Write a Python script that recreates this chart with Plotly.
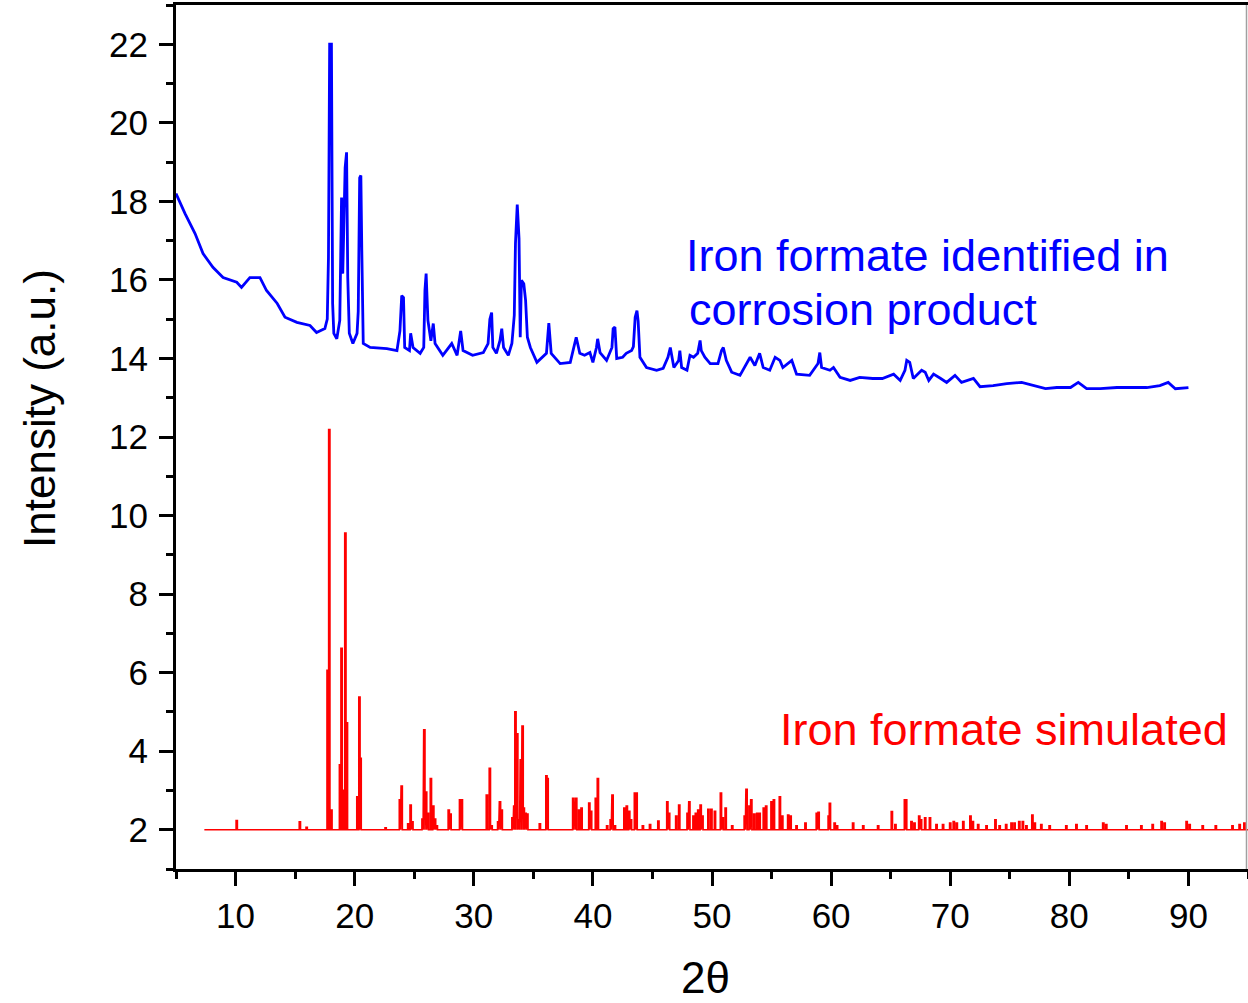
import plotly.graph_objects as go

# ---- data ----
blue_x = [5.0, 5.76, 6.6, 7.27, 8.1, 8.95, 10.1, 10.5, 11.2, 12.05, 12.6, 13.5, 14.15, 15.15, 16.25, 16.8,
          17.5, 17.7, 17.8, 17.9, 18.05, 18.15, 18.25, 18.5, 18.75, 18.9, 19.0, 19.2, 19.32, 19.42, 19.55,
          19.85, 20.2, 20.3, 20.42, 20.52, 20.6, 20.72, 21.3, 22.7, 23.55, 23.8, 23.95, 24.1, 24.2, 24.6,
          24.7, 24.9, 25.5, 25.8, 25.9, 26.0, 26.15, 26.4, 26.6, 26.75, 27.4, 28.15, 28.6, 28.9, 29.1,
          29.9, 30.8, 31.2, 31.35, 31.5, 31.6, 31.9, 32.2, 32.35, 32.5, 32.9, 33.2, 33.4, 33.5, 33.65,
          33.8, 33.9, 34.0, 34.2, 34.35, 34.5, 34.75, 35.3, 36.1, 36.2, 36.3, 36.5, 37.25, 38.1, 38.5,
          38.6, 38.9, 39.3, 39.75, 40.0, 40.3, 40.4, 40.6, 41.15, 41.6, 41.7, 41.85, 42.0, 42.5, 42.8,
          43.25, 43.4, 43.55, 43.7, 43.8, 43.95, 44.5, 45.35, 45.9, 46.3, 46.5, 46.8, 47.2, 47.3, 47.45,
          47.9, 48.15, 48.45, 48.8, 49.0, 49.1, 49.4, 49.85, 50.5, 50.8, 50.95, 51.2, 51.65, 52.35, 52.9,
          53.2, 53.6, 54.0, 54.3, 54.85, 55.3, 55.7, 55.95, 56.7, 57.1, 58.2, 58.9, 59.05, 59.2, 59.9,
          60.2, 60.75, 61.6, 62.4, 63.5, 64.3, 65.25, 65.8, 66.2, 66.35, 66.6, 66.9, 67.6, 67.9, 68.2,
          68.6, 69.2, 69.7, 70.4, 70.95, 71.95, 72.5, 73.6, 74.75, 76.0, 76.95, 78.0, 78.95, 80.1, 80.75,
          81.45, 82.6, 84.0, 85.1, 86.5, 87.6, 88.3, 88.9, 90.0]
blue_y = [18.2, 17.69, 17.18, 16.67, 16.32, 16.06, 15.94, 15.81, 16.06, 16.06, 15.73, 15.4, 15.05, 14.92,
          14.84, 14.66, 14.76, 15.0, 16.57, 22.0, 22.0, 15.4, 14.64, 14.5, 14.97, 18.1, 16.16, 18.86, 19.25,
          16.06, 14.64, 14.38, 14.64, 15.2, 18.6, 18.66, 16.75, 14.38, 14.28, 14.25, 14.2, 14.7, 15.6, 15.55,
          14.28, 14.2, 14.64, 14.28, 14.13, 14.28, 15.73, 16.16, 14.97, 14.45, 14.89, 14.38, 14.08, 14.38,
          14.08, 14.7, 14.2, 14.08, 14.15, 14.38, 15.0, 15.17, 14.28, 14.13, 14.46, 14.76, 14.28, 14.08,
          14.38, 15.1, 16.93, 17.92, 17.05, 14.54, 15.99, 15.9, 15.48, 14.54, 14.28, 13.9, 14.13, 14.46,
          14.9, 14.13, 13.87, 13.9, 14.46, 14.54, 14.13, 14.08, 14.15, 13.9, 14.28, 14.5, 14.15, 13.95,
          14.28, 14.76, 14.8, 14.0, 14.03, 14.13, 14.2, 14.3, 15.05, 15.22, 14.95, 14.03, 13.77, 13.7,
          13.75, 14.03, 14.28, 13.77, 13.95, 14.2, 13.77, 13.7, 14.08, 14.03, 14.13, 14.46, 14.2, 14.03,
          13.87, 13.87, 14.2, 14.28, 13.95, 13.65, 13.57, 13.87, 14.03, 13.82, 14.13, 13.77, 13.7, 14.03,
          13.95, 13.77, 13.95, 13.6, 13.57, 13.87, 14.15, 13.77, 13.7, 13.77, 13.52, 13.44, 13.52, 13.49,
          13.49, 13.6, 13.44, 13.7, 13.95, 13.9, 13.49, 13.7, 13.65, 13.44, 13.6, 13.49, 13.39, 13.57,
          13.39, 13.49, 13.28, 13.31, 13.36, 13.39, 13.31, 13.23, 13.26, 13.26, 13.39, 13.23, 13.23, 13.26,
          13.26, 13.26, 13.31, 13.39, 13.23, 13.26]

red_start = 7.38
red_end = 95.0
red_base = 2.0
red_pos = [10.1, 15.4, 15.97, 17.73, 17.87, 18.05, 18.77, 18.9, 19.05, 19.22, 19.35, 20.23, 20.4, 20.5,
           22.6, 23.8, 23.95, 24.5, 24.7, 24.85, 25.7, 25.85, 26.0, 26.15, 26.4, 26.6, 26.75, 26.9, 27.9,
           28.05, 28.85, 29.0, 31.1, 31.35, 31.5, 32.05, 32.2, 32.35, 33.25, 33.4, 33.5, 33.65, 33.8,
           33.95, 34.1, 34.2, 34.35, 34.5, 35.55, 36.1, 36.2, 38.35, 38.5, 38.6, 38.85, 39.05, 39.7, 39.85,
           40.25, 40.42, 41.2, 41.5, 41.65, 41.85, 42.65, 42.85, 43.05, 43.2, 43.53, 43.67, 44.2, 44.8,
           45.5, 46.25, 46.4, 47.0, 47.25, 47.95, 48.1, 48.45, 48.65, 48.85, 49.05, 49.2, 49.7, 49.95,
           50.25, 50.75, 50.9, 51.15, 51.7, 52.75, 52.9, 53.15, 53.3, 53.55, 53.8, 54.0, 54.35, 54.55,
           55.0, 55.2, 55.7, 55.9, 56.4, 56.6, 57.1, 57.85, 58.8, 58.95, 59.8, 59.9, 60.3, 60.5, 61.85,
           62.7, 63.95, 65.1, 65.4, 66.2, 66.3, 66.75, 67.0, 67.4, 67.55, 67.9, 68.3, 68.85, 69.4, 70.0,
           70.3, 70.55, 71.1, 71.7, 71.9, 72.35, 73.05, 73.8, 74.15, 74.7, 75.15, 75.4, 75.8, 76.1, 76.4,
           76.9, 77.1, 77.65, 78.35, 79.75, 80.6, 81.45, 82.85, 83.1, 84.8, 86.05, 87.0, 87.75, 88.0,
           89.85, 90.1, 91.2, 92.3, 93.7, 94.3, 94.7]
red_h = [2.23, 2.2, 2.06, 6.06, 12.19, 2.5, 3.65, 6.62, 3.0, 9.55, 4.72, 2.84, 5.38, 3.82,
         2.05, 2.76, 3.11, 2.15, 2.63, 2.2, 2.27, 4.54, 2.96, 2.42, 3.3, 2.6, 2.27, 2.1, 2.5,
         2.4, 2.76, 2.76, 2.88, 3.56, 2.1, 2.2, 2.71, 2.5, 2.3, 2.6, 5.0, 4.44, 2.25,
         3.78, 4.64, 2.55, 2.42, 2.4, 2.15, 3.37, 3.3, 2.8, 2.7, 2.8, 2.5, 2.55, 2.68, 2.47,
         2.8, 3.3, 2.1, 2.25, 2.88, 2.1, 2.55, 2.6, 2.47, 2.25, 2.93, 2.93, 2.1, 2.13,
         2.22, 2.71, 2.42, 2.35, 2.63, 2.42, 2.71, 2.35, 2.42, 2.5, 2.63, 2.35, 2.52, 2.52,
         2.47, 2.93, 2.3, 2.55, 2.1, 2.35, 3.03, 2.6, 2.76, 2.4, 2.42, 2.42, 2.55, 2.6,
         2.71, 2.76, 2.84, 2.35, 2.37, 2.35, 2.1, 2.17, 2.42, 2.44, 2.35, 2.67, 2.17, 2.1, 2.17,
         2.1, 2.1, 2.46, 2.13, 2.76, 2.76, 2.21, 2.17, 2.35, 2.25, 2.3, 2.3, 2.13, 2.13, 2.17,
         2.21, 2.17, 2.21, 2.35, 2.21, 2.13, 2.1, 2.25, 2.1, 2.13, 2.17, 2.17, 2.21, 2.21, 2.1,
         2.37, 2.17, 2.13, 2.1, 2.1, 2.13, 2.1, 2.17, 2.13, 2.1, 2.1, 2.13, 2.21, 2.17,
         2.21, 2.13, 2.1, 2.1, 2.1, 2.13, 2.17]

label_exp = ["Iron formate identified in", "corrosion product"]
label_sim = "Iron formate simulated"
x_title = "2θ"
y_title = "Intensity (a.u.)"

# ---- build stick pattern for the simulated trace ----
hw = 0.05
rx, ry = [red_start], [red_base]
for p, h in zip(red_pos, red_h):
    rx += [p - hw, p - hw, p + hw, p + hw]
    ry += [red_base, h, h, red_base]
rx.append(red_end)
ry.append(red_base)

FONT = "Arial, Liberation Sans, sans-serif"

fig = go.Figure()
fig.add_trace(go.Scatter(x=blue_x, y=blue_y, mode="lines",
                         line=dict(color="#0000ff", width=2.8), showlegend=False))
fig.add_trace(go.Scatter(x=rx, y=ry, mode="lines",
                         line=dict(color="#ff0000", width=1.7), showlegend=False))

axis_common = dict(showgrid=False, zeroline=False, showline=True, linecolor="black", linewidth=3,
                   ticks="outside", ticklen=14, tickwidth=2.5, tickcolor="black",
                   tickfont=dict(family=FONT, size=35, color="black"))

fig.update_xaxes(range=[5, 95], tick0=10, dtick=10, mirror=True,
                 minor=dict(ticks="outside", ticklen=7, tickwidth=2.5, dtick=5, tick0=5, tickcolor="black"),
                 **axis_common)
fig.update_yaxes(range=[1, 23], tick0=2, dtick=2, ticklabelstandoff=4,
                 minor=dict(ticks="outside", ticklen=7, tickwidth=2.5, dtick=1, tick0=1, tickcolor="black"),
                 **axis_common)

fig.add_annotation(text=label_exp[0], x=47.65, y=16.62, xref="x", yref="y", xanchor="left",
                   yanchor="middle", showarrow=False, font=dict(family=FONT, size=45, color="#0000ff"))
fig.add_annotation(text=label_exp[1], x=47.9, y=15.25, xref="x", yref="y", xanchor="left",
                   yanchor="middle", showarrow=False, font=dict(family=FONT, size=45, color="#0000ff"))
fig.add_annotation(text=label_sim, x=55.55, y=4.56, xref="x", yref="y", xanchor="left",
                   yanchor="middle", showarrow=False, font=dict(family=FONT, size=45, color="#ff0000"))
fig.add_annotation(text=y_title, x=-0.1269, y=0.5336, xref="paper", yref="paper", textangle=-90,
                   xanchor="center", yanchor="middle", showarrow=False,
                   font=dict(family=FONT, size=44, color="black"))
fig.add_annotation(text=x_title, x=0.4935, y=-0.126, xref="paper", yref="paper",
                   xanchor="center", yanchor="middle", showarrow=False,
                   font=dict(family=FONT, size=44, color="black"))

fig.add_shape(type="line", xref="paper", yref="paper", x0=0.9986, x1=0.9986, y0=0, y1=1,
              line=dict(color="#a0a0a0", width=1.5))

fig.update_layout(width=1248, height=1003, margin=dict(l=176, r=0, t=5, b=134),
                  plot_bgcolor="white", paper_bgcolor="white")

fig.write_html("out.html", config={"displayModeBar": False},
               post_script="document.body.style.margin='0';document.body.style.overflow='hidden';")
